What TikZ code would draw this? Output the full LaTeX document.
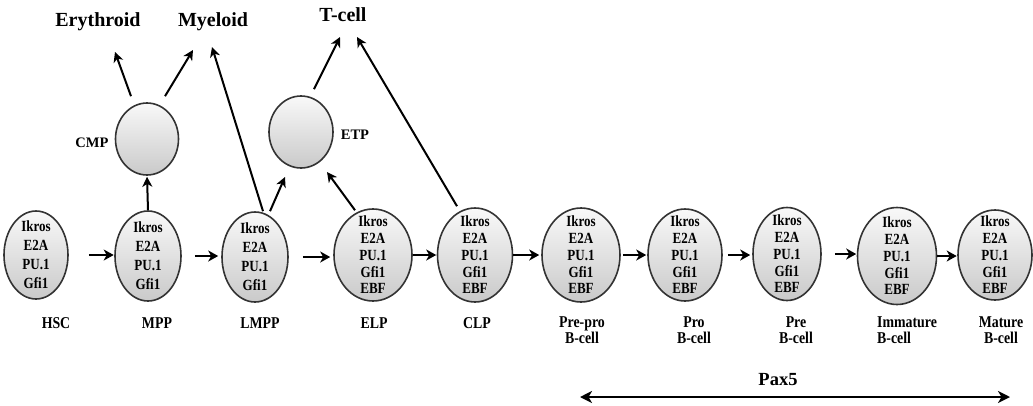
\documentclass[tikz,border=0pt]{standalone}
\usepackage{fontspec}
\setmainfont{Liberation Serif}
\newfontfamily\condfont[FakeStretch=0.84]{Liberation Serif}
\usetikzlibrary{arrows.meta,shapes.geometric,calc}
\begin{document}
\begin{tikzpicture}[x=1pt,y=-1pt,
  cellshape/.style={ellipse, draw=black!80, line width=1.6pt, top color=gray!5, bottom color=gray!42, inner sep=0pt},
  celltext/.style={align=center, inner sep=0pt, font=\condfont\bfseries\fontsize{15.5}{16.7}\selectfont},
  celltextfour/.style={align=center, inner sep=0pt, font=\condfont\bfseries\fontsize{15.5}{19}\selectfont},
  under/.style={align=center, inner sep=0pt, font=\condfont\bfseries\fontsize{16.5}{16.5}\selectfont},
  toplabel/.style={inner sep=0pt, font=\bfseries\fontsize{20}{22}\selectfont},
  sidelabel/.style={inner sep=0pt, font=\bfseries\fontsize{14.5}{16}\selectfont},
  flow/.style={-{Stealth[length=10pt,width=11pt,inset=3pt]}, line width=2.5pt},
  lin/.style={-{Stealth[length=10pt,width=10pt,inset=3pt]}, line width=2pt},
  paxarrow/.style={{Stealth[length=12pt,width=12pt,inset=3.5pt]}-{Stealth[length=12pt,width=12pt,inset=3.5pt]}, line width=2.8pt}
]
\useasboundingbox (0,0) rectangle (1033,405);

% top labels
\node[toplabel] (ery) at (98,22) {Erythroid};
\node[toplabel] (mye) at (213,22) {Myeloid};
\node[toplabel] (tcell) at (343,15) {T-cell};

% upper progenitors
\node[cellshape, minimum width=63pt, minimum height=72pt] (cmp) at (147,139) {};
\node[sidelabel] (cmpl) at (92,143) {CMP};
\node[cellshape, minimum width=64pt, minimum height=72pt] (etp) at (301,132) {};
\node[sidelabel] (etpl) at (355,135) {ETP};

% cells
\node[cellshape, minimum width=64pt, minimum height=88pt, label={[celltextfour]center:{Ikros\\E2A\\PU.1\\Gfi1}}] (hsc) at (36,255) {};
\node[cellshape, minimum width=66pt, minimum height=90pt, label={[celltextfour]center:{Ikros\\E2A\\PU.1\\Gfi1}}] (mpp) at (148,256) {};
\node[cellshape, minimum width=66pt, minimum height=90pt, label={[celltextfour]center:{Ikros\\E2A\\PU.1\\Gfi1}}] (lmpp) at (255,257) {};
\node[cellshape, minimum width=78pt, minimum height=92pt, label={[celltext]center:{Ikros\\E2A\\PU.1\\Gfi1\\EBF}}] (elp) at (373,255) {};
\node[cellshape, minimum width=75pt, minimum height=94pt, label={[celltext]center:{Ikros\\E2A\\PU.1\\Gfi1\\EBF}}] (clp) at (475,255) {};
\node[cellshape, minimum width=78pt, minimum height=94pt, label={[celltext]center:{Ikros\\E2A\\PU.1\\Gfi1\\EBF}}] (prepro) at (581,255) {};
\node[cellshape, minimum width=74pt, minimum height=92pt, label={[celltext]center:{Ikros\\E2A\\PU.1\\Gfi1\\EBF}}] (pro) at (685,255) {};
\node[cellshape, minimum width=68pt, minimum height=93pt, label={[celltext]center:{Ikros\\E2A\\PU.1\\Gfi1\\EBF}}] (pre) at (787,254) {};
\node[cellshape, minimum width=79pt, minimum height=97pt, label={[celltext]center:{Ikros\\E2A\\PU.1\\Gfi1\\EBF}}] (imm) at (897,256) {};
\node[cellshape, minimum width=74pt, minimum height=90pt, label={[celltext]center:{Ikros\\E2A\\PU.1\\Gfi1\\EBF}}] (mat) at (995,255) {};

% labels under cells
\node[under] (lhsc) at (56,323) {HSC};
\node[under] (lmpp1) at (157,323) {MPP};
\node[under] (llmpp) at (260,323) {LMPP};
\node[under] (lelp) at (374,323) {ELP};
\node[under] (lclp) at (477,323) {CLP};
\node[under] (lprepro) at (582,330) {Pre-pro\\B-cell};
\node[under] (lpro) at (694,330) {Pro\\B-cell};
\node[under] (lpre) at (796,330) {Pre\\B-cell};
\node[under, align=left, anchor=west] (limm) at (877,330) {Immature\\B-cell};
\node[under] (lmat) at (1001,330) {Mature\\B-cell};

% horizontal flow
\draw[flow, shorten <=20pt, shorten >=0.5pt] (hsc.east) -- (hsc.east -| mpp.west);
\draw[flow, shorten <=13pt, shorten >=3pt] (mpp.east) -- (mpp.east -| lmpp.west);
\draw[flow, shorten <=14pt, shorten >=3pt] (lmpp.east) -- (lmpp.east -| elp.west);
\draw[flow, shorten <=0pt, shorten >=0.5pt] (elp.east) -- (elp.east -| clp.west);
\draw[flow, shorten <=0pt, shorten >=2pt] (clp.east) -- (clp.east -| prepro.west);
\draw[flow, shorten <=2pt, shorten >=1pt] (prepro.east) -- (prepro.east -| pro.west);
\draw[flow, shorten <=5pt, shorten >=2pt] (pro.east) -- (pro.east -| pre.west);
\draw[flow, shorten <=13pt, shorten >=0.5pt] (pre.east) -- (pre.east -| imm.west);
\draw[flow, shorten <=0pt, shorten >=0.5pt] (imm.east) -- (imm.east -| mat.west);

% branching arrows
\draw[lin, shorten >=1pt] (mpp.north) -- (cmp.south);
\draw[lin] ([shift={(-16,-6)}]cmp.north) -- ([shift={(17,30)}]ery.center);
\draw[lin] ([shift={(18,-6)}]cmp.north) -- ([shift={(-20,28)}]mye.center);
\draw[lin] ([shift={(8,0)}]lmpp.north) -- ([shift={(-1,25)}]mye.center);
\draw[lin] ([shift={(15,0)}]lmpp.north) -- ([shift={(-16,45)}]etp.center);
\draw[lin] ([shift={(13,-6)}]etp.north) -- ([shift={(-3,22)}]tcell.center);
\draw[lin] ([shift={(-18,2)}]elp.north) -- ([shift={(26,40)}]etp.center);
\draw[lin] ([shift={(-18,-1)}]clp.north) -- ([shift={(14,22)}]tcell.center);

% Pax5
\node[inner sep=0pt, font=\bfseries\fontsize{18.5}{20}\selectfont] (pax) at (778,380) {Pax5};
\coordinate (paxL) at (580,397);
\coordinate (paxR) at (1010,397);
\draw[paxarrow] (paxL) -- (paxR);
\end{tikzpicture}
\end{document}
